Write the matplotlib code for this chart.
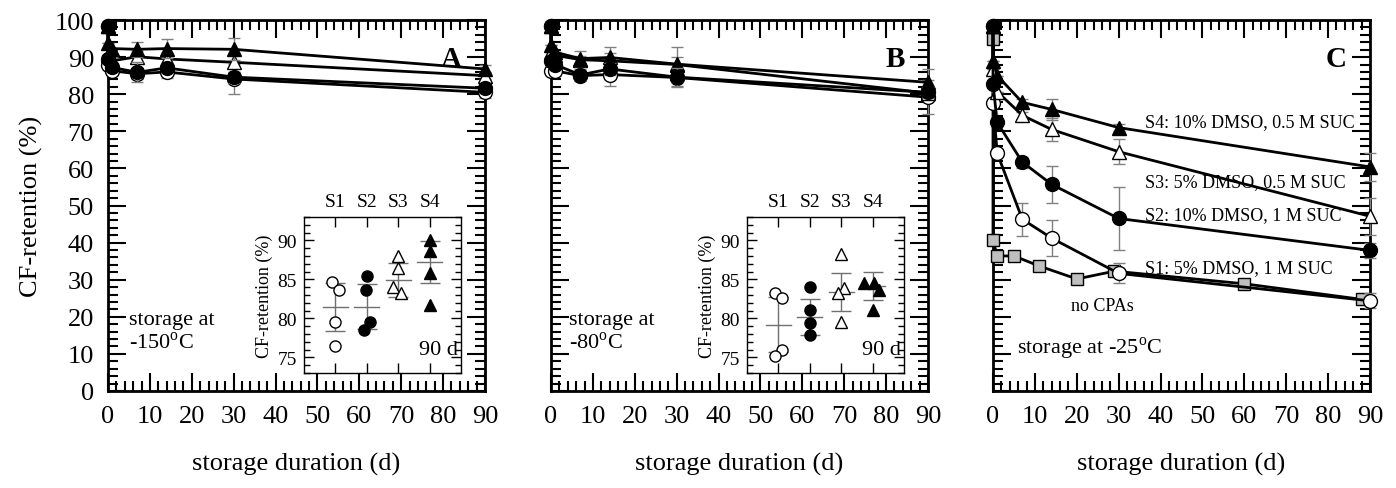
import matplotlib
matplotlib.use('Agg')
import matplotlib.pyplot as plt
from matplotlib.ticker import MultipleLocator, FixedLocator, NullFormatter

plt.rcParams['font.family'] = ['Liberation Serif', 'DejaVu Serif']
plt.rcParams['mathtext.fontset'] = 'custom'
plt.rcParams['mathtext.rm'] = 'Liberation Serif'

# storage days (first point = before freezing, second = day 0 after thaw)
days = [0, 0, 1, 7, 14, 30, 90]

# panel A: -150 C
A_S1 = [98.5, 88.0, 86.3, 85.5, 86.0, 84.1, 80.5]
A_S2 = [98.5, 89.6, 87.2, 85.9, 87.1, 84.6, 81.6]
A_S3 = [98.5, 90.5, 89.0, 90.1, 89.5, 88.6, 85.0]
A_S4 = [98.5, 93.9, 92.3, 92.1, 92.3, 92.1, 86.8]
A_S1_err = [0, 0, 1.0, 1.5, 1.5, 4.0, 1.5]
A_S2_err = [0, 0, 0, 2.7, 1.0, 1.5, 1.0]
A_S3_err = [0, 0, 1.0, 1.5, 1.5, 2.5, 1.0]
A_S4_err = [0, 0, 0, 2.0, 2.5, 3.0, 1.0]

# panel B: -80 C
B_S1 = [98.5, 86.3, 86.3, 85.0, 85.3, 84.5, 79.2]
B_S2 = [98.5, 89.0, 88.0, 85.2, 86.8, 84.6, 80.5]
B_S3 = [98.5, 91.5, 90.5, 89.3, 89.0, 88.0, 80.3]
B_S4 = [98.5, 93.2, 91.3, 89.6, 89.9, 88.1, 83.2]
B_S1_err = [0, 0, 1.5, 1.5, 3.0, 2.6, 4.5]
B_S2_err = [0, 0, 0, 1.5, 1.5, 2.5, 1.5]
B_S3_err = [0, 0, 0, 1.0, 2.0, 2.0, 1.5]
B_S4_err = [0, 0, 0, 2.0, 2.7, 4.7, 3.6]

# panel C: -25 C
C_S1 = [98.5, 77.7, 64.1, 46.3, 41.2, 31.7, 24.3]
C_S2 = [98.5, 82.8, 72.4, 61.7, 55.7, 46.5, 37.9]
C_S3 = [98.5, 86.8, 80.7, 74.3, 70.5, 64.5, 47.1]
C_S4 = [98.5, 89.0, 85.0, 77.8, 75.9, 71.0, 60.4]
C_S1_err = [0, 0, 0, 4.5, 4.9, 2.7, 2.0]
C_S2_err = [0, 0, 0, 1.5, 4.9, 8.6, 2.0]
C_S3_err = [0, 0, 0, 1.0, 3.0, 3.4, 5.0]
C_S4_err = [0, 0, 0, 1.0, 2.8, 1.0, 3.7]
nocpa_days = [0, 0, 1, 5, 11, 20, 29, 60, 88]
nocpa_vals = [94.8, 40.7, 36.4, 36.4, 33.7, 30.2, 32.3, 28.9, 24.7]

# insets: single replicates at 90 d
groups = ['S1', 'S2', 'S3', 'S4']
A_in_S1 = [84.7, 83.7, 79.5, 76.4]
A_in_S2 = [85.4, 83.6, 79.5, 78.5]
A_in_S3 = [88.0, 86.5, 84.0, 83.3]
A_in_S4 = [90.1, 88.6, 85.8, 81.7]
A_in_mean = [81.5, 81.5, 84.9, 87.2]
A_in_sd = [3.1, 2.9, 2.2, 2.7]
B_in_S1 = [83.2, 82.6, 76.0, 75.2]
B_in_S2 = [84.0, 81.1, 79.4, 77.9]
B_in_S3 = [88.2, 83.9, 83.2, 79.5]
B_in_S4 = [84.6, 84.5, 83.7, 81.1]
B_in_mean = [79.2, 80.2, 83.4, 84.1]
B_in_sd = [3.5, 2.3, 2.4, 1.8]
A_in_dx = [[-0.1, 0.1, 0, 0], [0, -0.03, 0.1, -0.1], [0, 0, -0.15, 0.1], [0, 0, 0, 0]]
B_in_dx = [[-0.1, 0.12, 0.12, -0.1], [0, 0, 0, 0], [0, 0.1, -0.1, 0], [0.05, -0.28, 0.2, 0]]

styles = {
    'S1': dict(marker='o', mfc='white', mec='black', ms=10),
    'S2': dict(marker='o', mfc='black', mec='black', ms=10),
    'S3': dict(marker='^', mfc='white', mec='black', ms=10),
    'S4': dict(marker='^', mfc='black', mec='black', ms=10),
}

fig = plt.figure(figsize=(13.96, 4.89), dpi=100)
bottom, height = 1 - 392 / 489, 371 / 489
axA = fig.add_axes([108 / 1396, bottom, 377 / 1396, height])
axB = fig.add_axes([551 / 1396, bottom, 377 / 1396, height])
axC = fig.add_axes([993 / 1396, bottom, 377 / 1396, height])


def style_main(ax, show_y):
    ax.set_xlim(0, 90)
    ax.set_ylim(0, 100)
    ax.xaxis.set_major_locator(MultipleLocator(10))
    ax.xaxis.set_minor_locator(MultipleLocator(2))
    ax.yaxis.set_major_locator(MultipleLocator(10))
    ax.yaxis.set_minor_locator(MultipleLocator(2))
    ax.tick_params(which='both', direction='in', top=True, right=True, width=1.5)
    ax.tick_params(which='major', length=13, labelsize=19, pad=10)
    ax.tick_params(which='minor', length=7)
    for s in ax.spines.values():
        s.set_linewidth(2)
    if not show_y:
        ax.yaxis.set_major_formatter(NullFormatter())
    ax.set_xlabel('storage duration (d)', fontsize=19, labelpad=18)


def plot_series(ax, x, y, err, key, z):
    ax.errorbar(x, y, yerr=err, fmt='none', ecolor='#808080', elinewidth=1,
                capsize=4, capthick=1, zorder=z, clip_on=False)
    ax.plot(x, y, color='black', lw=2, zorder=z + 0.5, clip_on=False, **styles[key])


for ax, sets in [(axA, [(A_S1, A_S1_err, 'S1'), (A_S3, A_S3_err, 'S3'),
                        (A_S4, A_S4_err, 'S4'), (A_S2, A_S2_err, 'S2')]),
                 (axB, [(B_S1, B_S1_err, 'S1'), (B_S3, B_S3_err, 'S3'),
                        (B_S4, B_S4_err, 'S4'), (B_S2, B_S2_err, 'S2')]),
                 (axC, [(C_S1, C_S1_err, 'S1'), (C_S3, C_S3_err, 'S3'),
                        (C_S4, C_S4_err, 'S4'), (C_S2, C_S2_err, 'S2')])]:
    for i, (vals, err, key) in enumerate(sets):
        plot_series(ax, days, vals, err, key, 3 + i)
    for s in ax.spines.values():
        s.set_zorder(2)

axC.plot(nocpa_days, nocpa_vals, color='black', lw=2, marker='s', ms=9,
         mfc='#bfbfbf', mec='black', zorder=2.8, clip_on=False)

style_main(axA, True)
style_main(axB, False)
style_main(axC, False)
axA.set_ylabel('CF-retention (%)', fontsize=19, labelpad=8)

for ax, lab in [(axA, 'A'), (axB, 'B'), (axC, 'C')]:
    ax.text(84.5, 89.5, lab, ha='right', va='center', fontsize=21, fontweight='bold')

axA.text(5.0, 16.0, 'storage at\n-150$^{\\mathrm{o}}$C', fontsize=16, va='center',
         linespacing=1.2)
axB.text(4.3, 16.0, 'storage at\n-80$^{\\mathrm{o}}$C', fontsize=16, va='center',
         linespacing=1.2)
axC.text(5.7, 11.7, 'storage at -25$^{\\mathrm{o}}$C', fontsize=16, va='center')
axC.text(36.3, 72.5, 'S4: 10% DMSO, 0.5 M SUC', fontsize=13, va='center')
axC.text(36.3, 56.4, 'S3: 5% DMSO, 0.5 M SUC', fontsize=13, va='center')
axC.text(36.3, 47.5, 'S2: 10% DMSO, 1 M SUC', fontsize=13, va='center')
axC.text(36.3, 33.2, 'S1: 5% DMSO, 1 M SUC', fontsize=13, va='center')
axC.text(26.0, 23.0, 'no CPAs', fontsize=13, ha='center', va='center')


def draw_inset(rect, series, means, sds, dxs):
    ax = fig.add_axes(rect)
    ax.set_xlim(0, 5)
    ax.set_ylim(73, 93)
    for i, (vals, key) in enumerate(zip(series, groups)):
        xc = i + 1
        xs = [xc + d for d in dxs[i]]
        ax.plot(xs, vals, ls='none', zorder=3, **dict(styles[key], ms=8))
        ax.plot([xc - 0.4, xc + 0.4], [means[i], means[i]], color='#707070', lw=1, zorder=2)
        ax.errorbar([xc], [means[i]], yerr=[sds[i]], fmt='none', ecolor='#707070',
                    elinewidth=1, capsize=7, capthick=1, zorder=2)
    ax.xaxis.set_major_locator(FixedLocator([1, 2, 3, 4]))
    ax.set_xticklabels(groups)
    ax.yaxis.set_major_locator(MultipleLocator(5))
    ax.yaxis.set_minor_locator(MultipleLocator(1))
    ax.tick_params(which='both', direction='in', top=True, bottom=True, right=True,
                   labeltop=True, labelbottom=False, width=1)
    ax.tick_params(which='major', length=7, labelsize=14, pad=5)
    ax.tick_params(which='minor', length=4)
    for s in ax.spines.values():
        s.set_linewidth(1)
    ax.set_ylabel('CF-retention (%)', fontsize=13, labelpad=3)
    ax.text(4.9, 76.0, '90 d', fontsize=16, ha='right', va='center')
    return ax


draw_inset([304 / 1396, 1 - 374 / 489, 157 / 1396, 156 / 489],
           [A_in_S1, A_in_S2, A_in_S3, A_in_S4], A_in_mean, A_in_sd, A_in_dx)
draw_inset([747 / 1396, 1 - 374 / 489, 157 / 1396, 156 / 489],
           [B_in_S1, B_in_S2, B_in_S3, B_in_S4], B_in_mean, B_in_sd, B_in_dx)

fig.savefig('out.png', dpi=100)
